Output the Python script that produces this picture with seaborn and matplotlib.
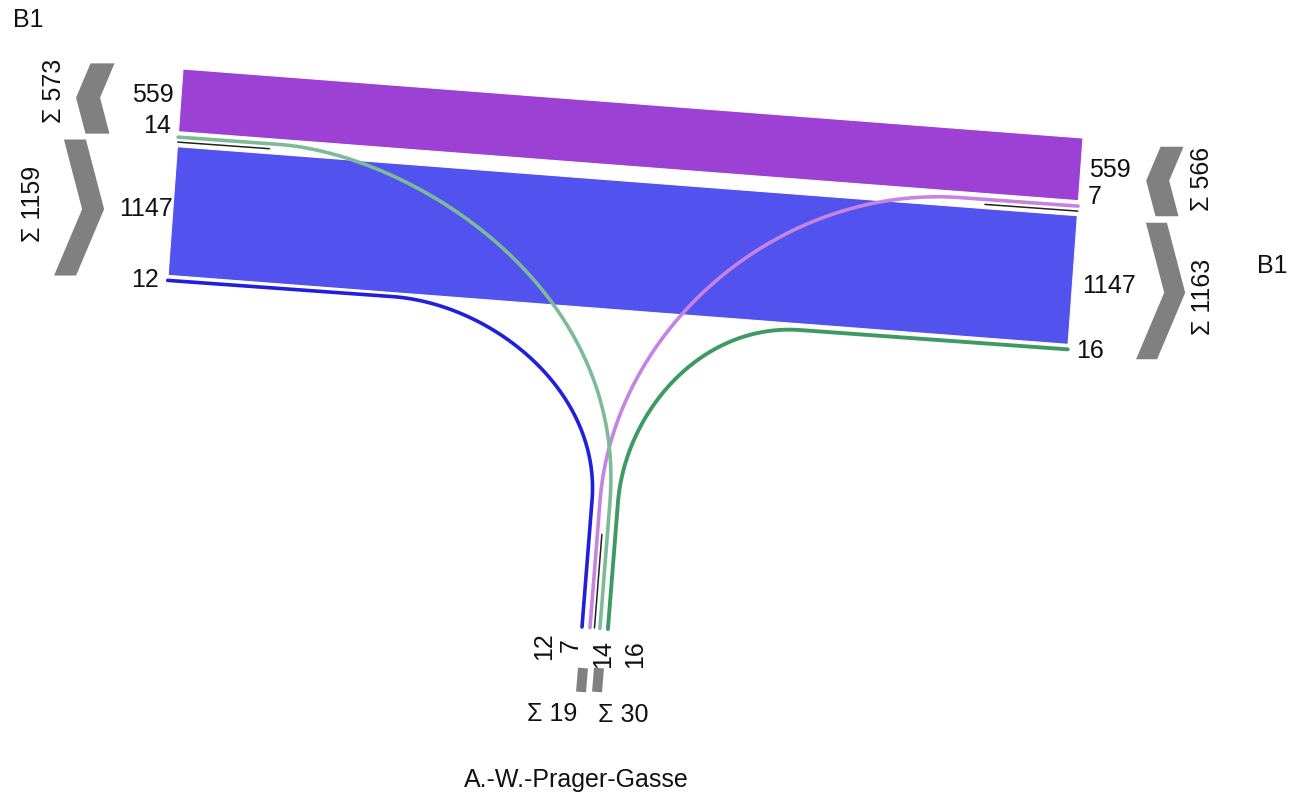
import numpy as np
import matplotlib
matplotlib.use("Agg")
import matplotlib.pyplot as plt
import seaborn as sns

# ---------------- data ----------------
arm_names = ["B1", "B1", "A.-W.-Prager-Gasse"]          # west, east, south
west_arriving = [559, 14]      # east->west, south->west
west_leaving = [1147, 12]      # west->east, west->south
east_leaving = [559, 7]        # east->west, east->south
east_arriving = [1147, 16]     # west->east, south->east
south_arriving = [12, 7]       # west->south, east->south
south_leaving = [14, 16]       # south->west, south->east

c_purple = "#9c41d4"
c_blue = "#5252ef"
c_blue_dark = "#1f1fdc"
c_pink = "#c683e0"
c_lgreen = "#7dbb98"
c_green = "#3d9a62"
c_gray = "#808080"

# ---------------- style ----------------
sns.set_theme(style="white")
plt.rcParams["font.family"] = ["Liberation Sans", "DejaVu Sans"]

fig = plt.figure(figsize=(12.89, 7.93), dpi=100)
ax = fig.add_axes([0, 0, 1, 1])

# ---------------- geometry helpers ----------------
s = 0.1125                              # px per vehicle
e = np.array([0.9974, 0.072])           # along the B1 arms (west -> east)
n = np.array([-0.072, 0.9974])          # across the B1 arms
u = np.array([0.079, -0.9969])          # up the south arm
m = np.array([0.9969, 0.079])           # across the south arm
L0 = np.array([183.0, 69.0])
R0 = np.array([1083.0, 138.0])
S0 = np.array([582.0, 627.0])


def Lp(t):
    return L0 + t * n


def Rp(t):
    return R0 + t * n


def Sp(t):
    return S0 + t * m


t_band1 = s * west_arriving[0]
t_small1 = t_band1 + 5.4
t_black = t_small1 + 5.0
t_band2a = t_black + 4.6
t_band2b = t_band2a + s * west_leaving[0]
t_small2 = t_band2b + 5.0

# big bands
for (t1, t2, col) in [(0, t_band1, c_purple), (t_band2a, t_band2b, c_blue)]:
    poly = np.array([Lp(t1), Rp(t1), Rp(t2), Lp(t2)])
    ax.fill(poly[:, 0], poly[:, 1], color=col, ec="white", lw=0.8, zorder=2)

# south positions
s_pos = {"blue": 0.0, "pink": 8.0, "black": 12.5, "lgreen": 18.0, "green": 26.0}
rise = 127.0


def bez(A, P1, P2, B, k=100):
    tt = np.linspace(0, 1, k)[:, None]
    return ((1 - tt) ** 3) * A + 3 * ((1 - tt) ** 2) * tt * P1 + 3 * (1 - tt) * tt ** 2 * P2 + tt ** 3 * B


def turning_path(start, along, a, kA, kB, spos):
    A = start + a * along
    base = Sp(spos)
    B = base + rise * u
    curve = bez(A, A + kA * along, B + kB * u, B)
    pts = np.vstack([start, curve, base])
    return pts


paths = [
    (turning_path(Lp(t_small2), e, 225, 100, 110, s_pos["blue"]), c_blue_dark, 2.6),
    (turning_path(Rp(t_small1), -e, 118, 180, 175, s_pos["pink"]), c_pink, 2.6),
    (turning_path(Lp(t_small1), e, 100, 135, 215, s_pos["lgreen"]), c_lgreen, 2.6),
    (turning_path(Rp(t_small2), -e, 268, 100, 90, s_pos["green"]), c_green, 2.8),
]
for pts, col, lw in paths:
    sns.lineplot(x=pts[:, 0], y=pts[:, 1], sort=False, estimator=None,
                 color=col, linewidth=lw, ax=ax, zorder=3)

# separator lines
for p0, p1 in [(Lp(t_black), Lp(t_black) + 92 * e),
               (Rp(t_black), Rp(t_black) - 93 * e),
               (Sp(s_pos["black"]), Sp(s_pos["black"]) + 94 * u)]:
    ax.plot([p0[0], p1[0]], [p0[1], p1[1]], color="#222222", lw=1.1, zorder=3)


# ---------------- chevrons ----------------
def chevron(mid, total, sign, hw):
    length = s * total + 6
    mid = np.array(mid)
    T = mid - length / 2 * n
    B = mid + length / 2 * n
    M = mid + sign * 0.17 * length * e
    h = np.array([hw, 0])
    poly = np.array([T - h, T + h, M + h, B + h, B - h, M - h])
    ax.fill(poly[:, 0], poly[:, 1], color=c_gray, lw=0, zorder=2)


chevron((100, 98.5), sum(west_arriving), -1, 12)
chevron((70, 207.5), sum(west_leaving), 1, 11)
chevron((1169.5, 181.5), sum(east_leaving), -1, 11.5)
chevron((1151.5, 291), sum(east_arriving), 1, 10.5)

for mid in [(582, 680), (598, 680)]:
    mid = np.array(mid, dtype=float)
    poly = np.array([mid - 12 * u - 5 * m, mid - 12 * u + 5 * m,
                     mid + 12 * u + 5 * m, mid + 12 * u - 5 * m])
    ax.fill(poly[:, 0], poly[:, 1], color=c_gray, lw=0, zorder=2)

ax.set_xlim(0, 1289)
ax.set_ylim(793, 0)
ax.axis("off")

# ---------------- text ----------------
fs = 18
tk = dict(fontsize=fs, color="#111111")
ax.text(13, 27, arm_names[0], ha="left", va="baseline", **tk)
ax.text(1257, 273, arm_names[1], ha="left", va="baseline", **tk)
ax.text(576, 787, arm_names[2], ha="center", va="baseline", **tk)

ax.text(174, 102, str(west_arriving[0]), ha="right", va="baseline", **tk)
ax.text(171, 133, str(west_arriving[1]), ha="right", va="baseline", **tk)
ax.text(173, 216, str(west_leaving[0]), ha="right", va="baseline", **tk)
ax.text(159, 287, str(west_leaving[1]), ha="right", va="baseline", **tk)

ax.text(1089, 177, str(east_leaving[0]), ha="left", va="baseline", **tk)
ax.text(1088, 204, str(east_leaving[1]), ha="left", va="baseline", **tk)
ax.text(1082, 293, str(east_arriving[0]), ha="left", va="baseline", **tk)
ax.text(1076, 358, str(east_arriving[1]), ha="left", va="baseline", **tk)

ax.text(54, 91, "Σ " + str(sum(west_arriving)), rotation=90, ha="center", va="center", **tk)
ax.text(33, 204, "Σ " + str(sum(west_leaving)), rotation=90, ha="center", va="center", **tk)
ax.text(1202, 179, "Σ " + str(sum(east_leaving)), rotation=90, ha="center", va="center", **tk)
ax.text(1203, 297, "Σ " + str(sum(east_arriving)), rotation=90, ha="center", va="center", **tk)

for (x, y), v in zip([(544, 646), (571, 645)], south_arriving):
    ax.text(x, y, str(v), rotation=90, ha="center", va="center", **tk)
for (x, y), v in zip([(603, 654), (635, 654)], south_leaving):
    ax.text(x, y, str(v), rotation=90, ha="center", va="center", **tk)

ax.text(552, 721, "Σ " + str(sum(south_arriving)), ha="center", va="baseline", **tk)
ax.text(623, 722, "Σ " + str(sum(south_leaving)), ha="center", va="baseline", **tk)

fig.savefig("out.png", dpi=100, facecolor="white")
